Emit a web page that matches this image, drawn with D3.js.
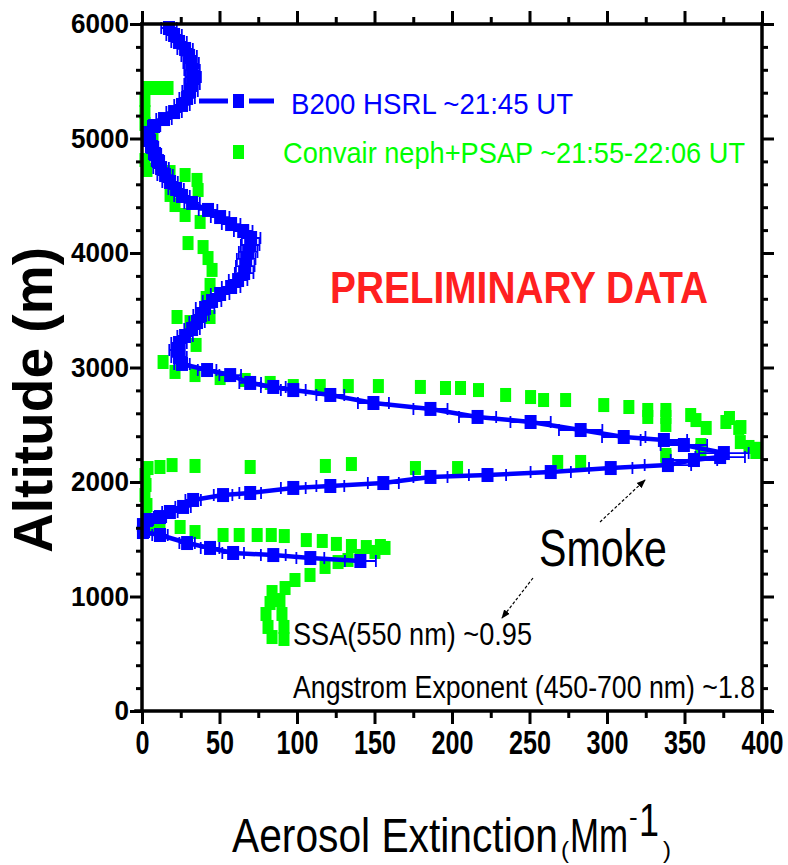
<!DOCTYPE html>
<html>
<head>
<meta charset="utf-8">
<script src="https://cdn.jsdelivr.net/npm/d3@7"></script>
<style>
  html, body { margin: 0; padding: 0; background: #ffffff; }
  svg { display: block; font-family: "Liberation Sans", Arial, sans-serif; }
</style>
</head>
<body>
<svg id="chart" width="788" height="865"></svg>
<script>
// B200 HSRL extinction profile: extinction (Mm^-1), its uncertainty, and altitude (m)
const hsrlExt = [17.4, 20.7, 23.9, 27.8, 30.4, 31.7, 32.3, 33.0, 32.3, 31.0, 29.1, 25.8, 20.7, 14.2, 7.8,
  3.9, 4.5, 6.5, 8.4, 10.3, 12.3, 14.9, 18.1, 22.0, 25.8, 32.3,
  42.6, 50.4, 57.5, 65.3, 70.4, 69.8, 68.5, 67.2, 66.6, 65.9, 62.0, 57.5, 50.4, 45.2, 40.7,
  38.1, 35.5, 32.3, 27.8, 23.9, 22.6, 23.9, 25.8,
  42.0, 56.9, 69.8, 84.7, 97.6, 121.5, 149.3, 186.1, 216.5, 250.7, 283.0, 310.8, 336.7, 349.6, 375.4,
  373, 356.1, 339.3, 302.4, 263.7, 222.9, 186.1, 155.7, 121.5, 97.6, 69.8, 52.3, 33.0, 26.5, 18.0, 11.6, 3.2, 0.6,
  0.6, 11.6, 29.1, 43.9, 58.8, 84.7, 108.6, 140.9];
const hsrlErr = [5, 5, 5, 5, 5, 5, 5, 5, 5, 5, 5, 5, 5, 5, 4,
  4, 4, 4, 4, 4, 5, 5, 5, 5, 5, 5,
  6, 6, 6, 6, 6, 6, 6, 6, 6, 6, 6, 6, 6, 6, 6,
  5, 5, 5, 5, 5, 5, 5, 5,
  6, 7, 7, 8, 8, 9, 10, 11, 12, 13, 14, 14, 15, 15, 16,
  16, 15, 15, 14, 13, 12, 11, 10, 9, 8, 7, 6, 5, 5, 5, 4, 4, 4,
  4, 5, 5, 6, 7, 8, 9, 10];
const hsrlAlt = [5965, 5904, 5843, 5782, 5721, 5659, 5598, 5537, 5476, 5415, 5354, 5293, 5231, 5170, 5109,
  5048, 4987, 4926, 4865, 4803, 4742, 4681, 4620, 4559, 4498, 4437,
  4376, 4314, 4253, 4192, 4131, 4070, 4009, 3948, 3886, 3825, 3764, 3703, 3642, 3581, 3520,
  3459, 3397, 3336, 3275, 3214, 3153, 3092, 3031,
  2978, 2934, 2865, 2830, 2803, 2760, 2690, 2638, 2568, 2524, 2454, 2393, 2367, 2323, 2253,
  2218, 2192, 2148, 2122, 2087, 2061, 2044, 1991, 1965, 1948, 1904, 1886, 1843, 1782, 1738, 1694, 1668, 1624,
  1563, 1537, 1467, 1424, 1380, 1362, 1336, 1310];

// Convair nephelometer + PSAP extinction (Mm^-1) and altitude (m)
const convairExt = [16.8, 10.3, 3.9, 1.9, 1.9, 1.9, 7.1, 1.9, 3.2, 18.1, 27.8, 35.5, 36.2, 18.1, 21.3, 27.8,
  37.5, 29.7, 39.4, 42.6, 45.2, 43.9, 41.4, 22.6, 31.0, 43.9, 34.9, 13.6, 21.3, 34.2, 50.4, 66.6,
  82.7, 97.6, 115.0, 133.1, 152.5, 179.6, 195.8, 205.5, 217.1, 234.6, 250.7, 259.1, 273.3, 297.9, 314.1,
  326.3, 338.0, 357.4, 376.7, 386.4, 391.6, 397, 360.6, 338.0,
  338.0, 338.0, 354.0, 364.0, 379.0, 385.0, 386.0, 396.0, 360.6, 338.0, 326.3,
  3.9, 11.6, 19.4, 34.2, 69.8, 118.3, 135.1, 176.4, 203.6, 268.2, 283.0,
  1.9, 2.6, 1.9, 3.2, 2.6, 5.2, 11.6, 24.6, 34.2, 8.5,
  52.3, 62.7, 74.3, 83.4, 91.8, 106.0, 116.3, 125.4, 135.1, 144.7, 153.8, 156.8,
  150.3, 140.6, 132.9, 126.5, 118.1, 108.4, 98.7, 92.3, 83.9, 82.6, 89.0, 80.0, 90.3, 81.3, 91.6, 83.9, 91.6];
const convairAlt = [5441, 5441, 5441, 5336, 5231, 5127, 4987, 4812, 4725, 4707, 4681, 4638, 4550, 4507, 4419, 4332,
  4271, 4087, 4052, 3956, 3852, 3721, 3607, 3441, 3397, 3441, 3197, 3048, 2961, 2934, 2908, 2891,
  2865, 2838, 2838, 2838, 2838, 2830, 2821, 2821, 2803, 2760, 2742, 2716, 2716, 2672, 2655,
  2629, 2568, 2541, 2524, 2480, 2306, 2290, 2323, 2236,
  2629, 2498, 2585, 2472, 2559, 2472, 2349, 2262, 2279, 2218, 2568,
  2122, 2131, 2148, 2140, 2131, 2140, 2157, 2122, 2122, 2175, 2175,
  2061, 1974, 1886, 1799, 1712, 1624, 1642, 1607, 1563, 1590,
  1537, 1537, 1537, 1537, 1528, 1493, 1485, 1459, 1441, 1432, 1441, 1424,
  1389, 1354, 1319, 1301, 1258, 1188, 1144, 1074, 1039, 943, 969, 847, 847, 734, 734, 646, 629];

// Axis ticks
const xMajor = [0, 50, 100, 150, 200, 250, 300, 350, 400];
const xMinor = [25, 75, 125, 175, 225, 275, 325, 375];
const yMajor = [0, 1000, 2000, 3000, 4000, 5000, 6000];
const yMinor = [200, 400, 600, 800, 1200, 1400, 1600, 1800, 2200, 2400, 2600, 2800,
  3200, 3400, 3600, 3800, 4200, 4400, 4600, 4800, 5200, 5400, 5600, 5800];

// Legend and annotation text
const seriesNames = ["B200 HSRL ~21:45 UT", "Convair neph+PSAP ~21:55-22:06 UT"];
const stampText = "PRELIMINARY DATA";
const smokeText = "Smoke";
const ssaText = "SSA(550 nm) ~0.95";
const angstromText = "Angstrom Exponent (450-700 nm) ~1.8";

const BLUE = "#0000ff", GREEN = "#00ff00";

const svg = d3.select("#chart");
const x = d3.scaleLinear().domain([0, 400]).range([142, 762]);
const y = d3.scaleLinear().domain([0, 6000]).range([711, 24]);

const defs = svg.append("defs");
defs.append("marker")
  .attr("id", "arrow")
  .attr("viewBox", "0 0 10 10")
  .attr("refX", 9).attr("refY", 5)
  .attr("markerWidth", 9).attr("markerHeight", 9)
  .attr("markerUnits", "userSpaceOnUse")
  .attr("orient", "auto")
  .append("path").attr("d", "M0,1 L10,5 L0,9 Z").attr("fill", "#000");

// ---- data ----
const hsrl = hsrlExt.map((v, i) => ({ v, e: hsrlErr[i], a: hsrlAlt[i] }));
const convair = convairExt.map((v, i) => ({ v, a: convairAlt[i] }));

const MW = 11, MH = 14;
svg.append("g").selectAll("rect").data(convair).join("rect")
  .attr("x", d => x(d.v) - MW / 2).attr("y", d => y(d.a) - MH / 2)
  .attr("width", MW).attr("height", MH).attr("fill", GREEN);

// HSRL horizontal error bars with end caps
const eb = svg.append("g").attr("stroke", BLUE).attr("stroke-width", 1.8);
eb.selectAll("path").data(hsrl).join("path")
  .attr("d", d => {
    const x0 = x(Math.max(0, d.v - d.e)), x1 = x(d.v + d.e), yy = y(d.a);
    return `M${x0},${yy}H${x1}M${x0},${yy - 6}V${yy + 6}M${x1},${yy - 6}V${yy + 6}`;
  })
  .attr("fill", "none");

const line = d3.line().x(d => x(d.v)).y(d => y(d.a));
svg.append("path").datum(hsrl).attr("d", line)
  .attr("fill", "none").attr("stroke", BLUE).attr("stroke-width", 4.5)
  .attr("stroke-linejoin", "round");
svg.append("g").selectAll("rect").data(hsrl).join("rect")
  .attr("x", d => x(d.v) - 6).attr("y", d => y(d.a) - 7)
  .attr("width", 12).attr("height", 14).attr("fill", BLUE);

// ---- axes ----
function styleAxis(g) {
  g.select(".domain").remove();
  g.selectAll(".tick line").attr("stroke", "#000").attr("stroke-width", 3);
}
const plain = d3.format("d");
const gx = svg.append("g").attr("transform", `translate(0,${y(0)})`)
  .call(d3.axisBottom(x).tickValues(xMajor).tickFormat(plain).tickSize(13).tickPadding(7).tickSizeOuter(0))
  .call(styleAxis);
gx.selectAll(".tick text")
  .attr("font-size", 33).attr("font-weight", "bold").attr("fill", "#000")
  .attr("font-family", "Liberation Sans, Arial, sans-serif")
  .attr("textLength", d => String(d).length * 14).attr("lengthAdjust", "spacingAndGlyphs");
svg.append("g").attr("transform", `translate(0,${y(0)})`)
  .call(d3.axisBottom(x).tickValues(xMinor).tickSize(7).tickFormat("").tickSizeOuter(0))
  .call(styleAxis);

svg.append("g").attr("transform", `translate(0,${y(6000)})`)
  .call(d3.axisTop(x).tickValues(xMajor).tickSize(13).tickFormat("").tickSizeOuter(0))
  .call(styleAxis);
svg.append("g").attr("transform", `translate(0,${y(6000)})`)
  .call(d3.axisTop(x).tickValues(xMinor).tickSize(7).tickFormat("").tickSizeOuter(0))
  .call(styleAxis);

const gy = svg.append("g").attr("transform", `translate(${x(0)},0)`)
  .call(d3.axisLeft(y).tickValues(yMajor).tickFormat(plain).tickSize(12).tickPadding(1).tickSizeOuter(0))
  .call(styleAxis);
gy.selectAll(".tick text")
  .attr("font-size", 27).attr("font-weight", "bold").attr("fill", "#000")
  .attr("font-family", "Liberation Sans, Arial, sans-serif")
  .attr("textLength", d => String(d).length * 14.5).attr("lengthAdjust", "spacingAndGlyphs");
svg.append("g").attr("transform", `translate(${x(0)},0)`)
  .call(d3.axisLeft(y).tickValues(yMinor).tickSize(6).tickFormat("").tickSizeOuter(0))
  .call(styleAxis);

svg.append("g").attr("transform", `translate(${x(400)},0)`)
  .call(d3.axisRight(y).tickValues(yMajor).tickSize(12).tickFormat("").tickSizeOuter(0))
  .call(styleAxis);
svg.append("g").attr("transform", `translate(${x(400)},0)`)
  .call(d3.axisRight(y).tickValues(yMinor).tickSize(6).tickFormat("").tickSizeOuter(0))
  .call(styleAxis);

// frame
const frame = svg.append("g").attr("stroke", "#000").attr("stroke-width", 3.5).attr("stroke-linecap", "square");
frame.append("line").attr("x1", x(0)).attr("x2", x(400)).attr("y1", y(6000)).attr("y2", y(6000));
frame.append("line").attr("x1", x(0) - 6).attr("x2", x(400) + 8).attr("y1", y(0)).attr("y2", y(0));
frame.append("line").attr("x1", x(0)).attr("x2", x(0)).attr("y1", y(0)).attr("y2", y(6000));
frame.append("line").attr("x1", x(400)).attr("x2", x(400)).attr("y1", y(0)).attr("y2", y(6000));

// ---- axis titles ----
svg.append("text")
  .attr("transform", `translate(52,400) rotate(-90)`)
  .attr("text-anchor", "middle").attr("font-size", 55).attr("font-weight", "bold")
  .attr("textLength", 306).attr("lengthAdjust", "spacingAndGlyphs")
  .text("Altitude (m)");

const xt = svg.append("g").attr("fill", "#000");
xt.append("text").attr("x", 232).attr("y", 852).attr("font-size", 48)
  .attr("textLength", 326).attr("lengthAdjust", "spacingAndGlyphs").text("Aerosol Extinction");
xt.append("text").attr("x", 561).attr("y", 858).attr("font-size", 24).text("(");
xt.append("text").attr("x", 570).attr("y", 852).attr("font-size", 48)
  .attr("textLength", 58).attr("lengthAdjust", "spacingAndGlyphs").text("Mm");
xt.append("text").attr("x", 629).attr("y", 826).attr("font-size", 26).text("-");
xt.append("text").attr("x", 639).attr("y", 836).attr("font-size", 46)
  .attr("textLength", 20).attr("lengthAdjust", "spacingAndGlyphs").text("1");
xt.append("text").attr("x", 663).attr("y", 858).attr("font-size", 24).text(")");

// ---- legend ----
const lg = svg.append("g");
lg.append("line").attr("x1", 199).attr("x2", 228).attr("y1", 101).attr("y2", 101)
  .attr("stroke", BLUE).attr("stroke-width", 5);
lg.append("line").attr("x1", 249).attr("x2", 274).attr("y1", 101).attr("y2", 101)
  .attr("stroke", BLUE).attr("stroke-width", 5);
lg.append("rect").attr("x", 233).attr("y", 94).attr("width", 11).attr("height", 14).attr("fill", BLUE);
lg.append("text").attr("x", 291).attr("y", 114).attr("font-size", 30).attr("fill", BLUE)
  .attr("textLength", 282).attr("lengthAdjust", "spacingAndGlyphs").text(seriesNames[0]);
lg.append("rect").attr("x", 233).attr("y", 145).attr("width", 11).attr("height", 14).attr("fill", GREEN);
lg.append("text").attr("x", 283).attr("y", 163).attr("font-size", 30).attr("fill", GREEN)
  .attr("textLength", 462).attr("lengthAdjust", "spacingAndGlyphs").text(seriesNames[1]);

// ---- annotations ----
svg.append("text").attr("x", 330).attr("y", 303).attr("font-size", 44).attr("font-weight", "bold")
  .attr("fill", "#ff2020").attr("textLength", 378).attr("lengthAdjust", "spacingAndGlyphs").text(stampText);

svg.append("text").attr("x", 539).attr("y", 566).attr("font-size", 52).attr("fill", "#000")
  .attr("textLength", 128).attr("lengthAdjust", "spacingAndGlyphs").text(smokeText);

svg.append("text").attr("x", 293).attr("y", 645).attr("font-size", 31).attr("fill", "#000")
  .attr("textLength", 239).attr("lengthAdjust", "spacingAndGlyphs").text(ssaText);
svg.append("text").attr("x", 293).attr("y", 698).attr("font-size", 31).attr("fill", "#000")
  .attr("textLength", 462).attr("lengthAdjust", "spacingAndGlyphs").text(angstromText);

const arrows = [[600, 522, 645, 480], [533, 578, 502, 618]];
svg.append("g").selectAll("line").data(arrows).join("line")
  .attr("x1", d => d[0]).attr("y1", d => d[1]).attr("x2", d => d[2]).attr("y2", d => d[3])
  .attr("stroke", "#000").attr("stroke-width", 1.2).attr("stroke-dasharray", "3,2")
  .attr("marker-end", "url(#arrow)");
</script>
</body>
</html>
